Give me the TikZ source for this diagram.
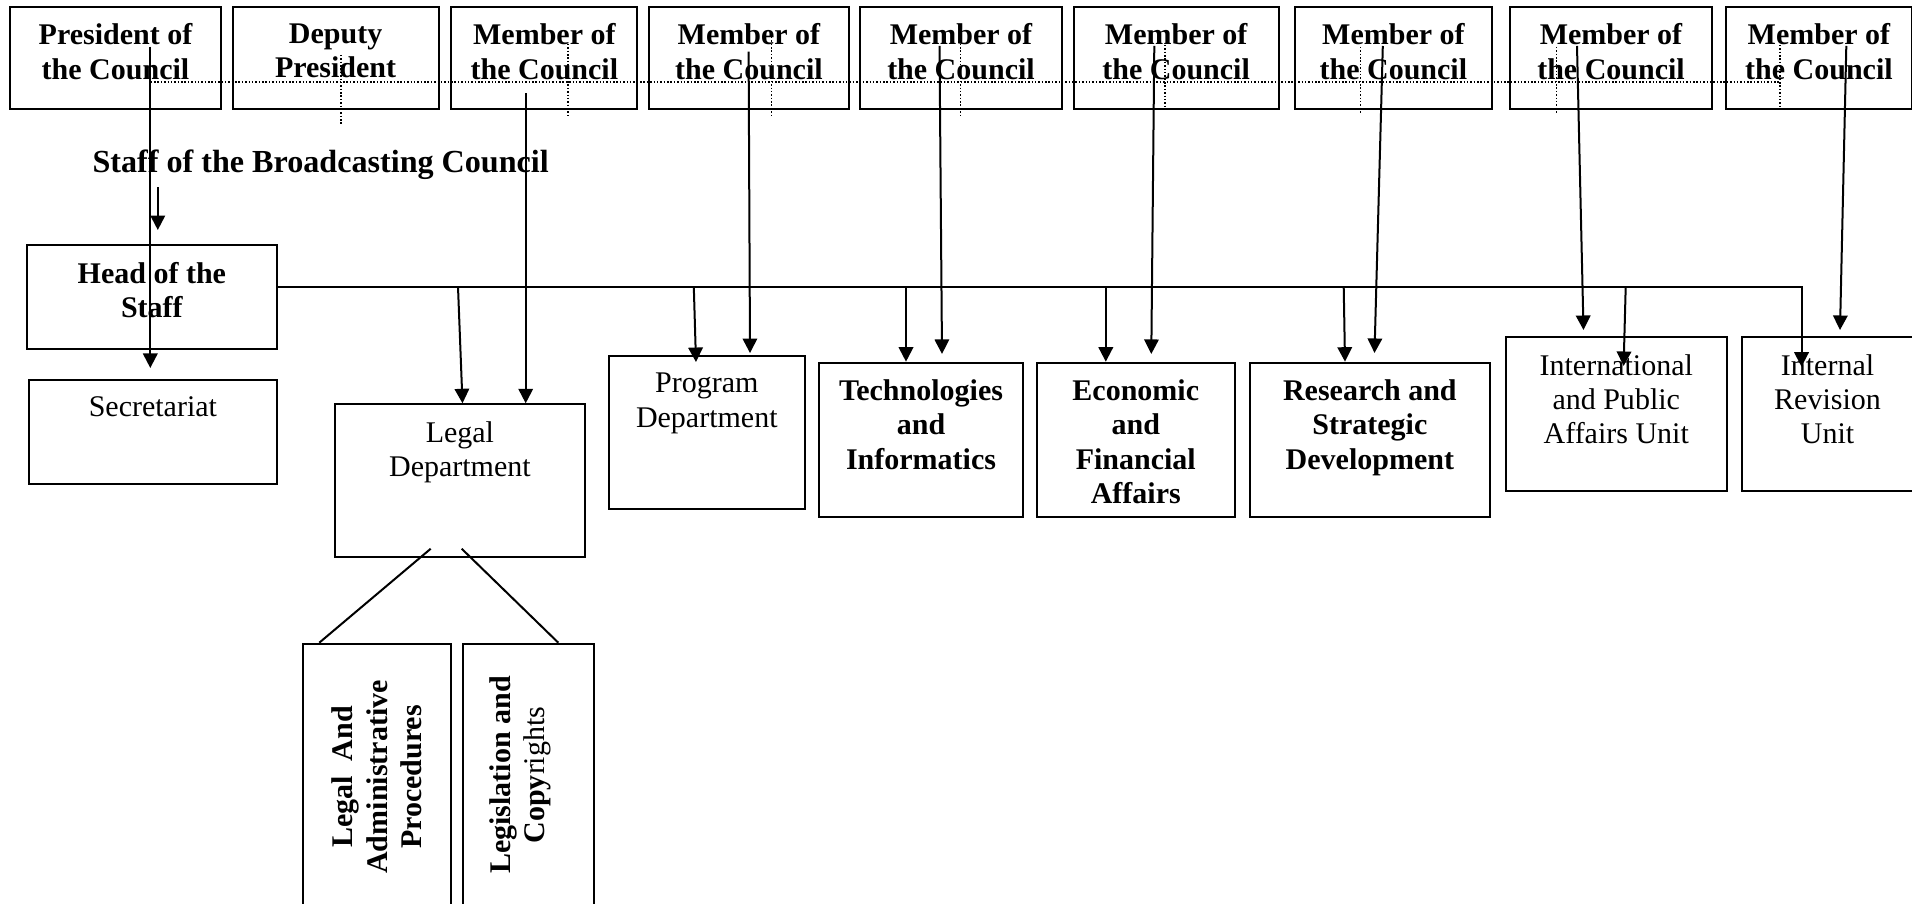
\documentclass[tikz,border=0pt]{standalone}
\usepackage{fontspec}
\setmainfont{Liberation Serif}
\usetikzlibrary{arrows.meta}

\tikzset{
  unit/.style 2 args={draw, line width=0.8pt, anchor=north west, inner sep=0pt,
    minimum width=#1*0.4pt, minimum height=#2*0.4pt},
  lab/.style={anchor=north, align=center, inner sep=0pt, yshift=-7pt,
    font=\fontsize{12}{13.7}\selectfont},
  blab/.style={lab, font=\fontsize{12}{13.7}\selectfont\bfseries},
  vlab/.style={anchor=center, align=center, inner sep=0pt, rotate=90,
    font=\fontsize{12}{13.7}\selectfont\bfseries},
  link/.style={line width=0.8pt},
  arr/.style={link, -{Triangle[length=5.8pt,width=5.8pt]}},
  dots/.style={line width=0.6pt, dash pattern=on 0.6pt off 0.75pt},
}

\begin{document}
\begin{tikzpicture}[x=0.4pt, y=-0.4pt]
  \useasboundingbox (0,0) rectangle (1912,904);

  % Council
  \node[unit={210.4}{102}, label={[blab]north:{President of\\the Council}}] (pres) at (9.3,5.7) {};
  \node[unit={206.2}{102}, label={[blab]north:{Deputy\\President}}] (dep) at (231.5,5.7) {};
  \node[unit={186.1}{102}, label={[blab]north:{Member of\\the Council}}] (m3) at (450.3,5.7) {};
  \node[unit={199.1}{102}, label={[blab]north:{Member of\\the Council}}] (m4) at (648.4,5.7) {};
  \node[unit={202}{102}, label={[blab]north:{Member of\\the Council}}] (m5) at (859,5.7) {};
  \node[unit={204.9}{102}, label={[blab]north:{Member of\\the Council}}] (m6) at (1072.7,5.7) {};
  \node[unit={196.8}{102}, label={[blab]north:{Member of\\the Council}}] (m7) at (1294,5.7) {};
  \node[unit={202}{102}, label={[blab]north:{Member of\\the Council}}] (m8) at (1509,5.7) {};
  \node[unit={185.8}{102}, label={[blab]north:{Member of\\the Council}}] (m9) at (1725,5.7) {};

  % dotted guide lines
  \draw[dots] (150.7,82) -- (1779.8,82);
  \foreach \x/\a/\b in {341/55/125, 568/44/118, 771.7/37/115, 960.7/37/115,
                        1164.8/45/110, 1360.6/47/113, 1556.5/47/113, 1779.8/45/110}
    \draw[dots] (\x,\a) -- (\x,\b);

  % Staff
  \node[anchor=base, inner sep=0pt, font=\fontsize{12.85}{14}\selectfont\bfseries] (title) at (320.7,172.7)
    {Staff of the Broadcasting Council};
  \node[unit={249.7}{104}, label={[blab]north:{Head of the\\Staff}}] (head) at (26,244.3) {};
  \node[unit={248.2}{103.7}, label={[lab]north:{Secretariat}}] (sec) at (27.8,379) {};
  \node[unit={250.2}{152.7}, label={[lab]north:{Legal\\Department}}] (legal) at (333.8,403.3) {};
  \node[unit={195.6}{153}, label={[lab]north:{Program\\Department}}] (prog) at (608,355.3) {};
  \node[unit={204}{154}, label={[blab]north:{Technologies\\and\\Informatics}}] (tech) at (818,361.7) {};
  \node[unit={198.5}{154}, label={[blab]north:{Economic\\and\\Financial\\Affairs}}] (econ) at (1035.5,361.7) {};
  \node[unit={240.3}{154}, label={[blab]north:{Research and\\Strategic\\Development}}] (res) at (1248.7,361.7) {};
  \node[unit={220.5}{153.5}, label={[lab]north:{International\\and Public\\Affairs Unit}}] (intl) at (1505,336.5) {};
  \node[unit={171}{153.5}, label={[lab]north:{Internal\\Revision\\Unit}}] (inrev) at (1741,336.5) {};

  % Legal department sections
  \node[unit={148.3}{266.6}, label={[vlab]center:{Legal\ \ And\\Administrative\\Procedures}}] (lap) at (301.7,642.7) {};
  \node[unit={131}{266.6}, label={[vlab, xshift=0.8pt, yshift=3.2pt]center:{Legislation and\\Copy\textmd{rights}}}] (legc) at (461.7,642.7) {};

  % lines from the council
  \coordinate (c1) at (150.3,46.7);
  \coordinate (c3) at (525.7,93.3);
  \coordinate (c4) at (748.6,51.7);
  \coordinate (c5) at (939.5,46);
  \coordinate (c6) at (1154.3,46);
  \coordinate (c7) at (1382.8,46);
  \coordinate (c8) at (1577,46);
  \coordinate (c9) at (1846.3,46);
  \draw[arr] (c1) -- ([yshift=4.4pt]c1 |- sec.north);
  \draw[arr] (c3) -- (c3 |- legal.north);
  \draw[arr] (c4) -- ([yshift=0.9pt]750,0 |- prog.north);
  \draw[arr] (c5) -- ([yshift=3.1pt]942,0 |- tech.north);
  \draw[arr] (c6) -- ([yshift=3.1pt]1151.3,0 |- econ.north);
  \draw[arr] (c7) -- ([yshift=3.5pt]1374.5,0 |- res.north);
  \draw[arr] (c8) -- ([yshift=2.6pt]1583.5,0 |- intl.north);
  \draw[arr] (c9) -- ([yshift=2.6pt]1840,0 |- inrev.north);

  % staff lines
  \draw[arr] ([yshift=-2.7pt]157.8,0 |- title.south) -- ([yshift=5.7pt]157.8,0 |- head.north);
  \coordinate (bus) at ([yshift=4.2pt]head.east);
  \draw[arr] (bus) -| ([yshift=-12.1pt]1801.5,0 |- inrev.north);
  \draw[arr] (458,0 |- bus) -- (462.5,0 |- legal.north);
  \draw[arr] (693.8,0 |- bus) -- ([yshift=-2.7pt]696,0 |- prog.north);
  \draw[arr] (906,0 |- bus) -- (906,0 |- tech.north);
  \draw[arr] (1105.8,0 |- bus) -- (1105.8,0 |- econ.north);
  \draw[arr] (1343.7,0 |- bus) -- (1345,0 |- res.north);
  \draw[arr] (1625.7,0 |- bus) -- ([yshift=-11.8pt]1623.6,0 |- intl.north);

  % legal sections
  \draw[link] ([yshift=3.7pt]430.7,0 |- legal.south) -- (319.3,0 |- lap.north);
  \draw[link] ([yshift=3.7pt]461.7,0 |- legal.south) -- (558.3,0 |- legc.north);
\end{tikzpicture}
\end{document}
